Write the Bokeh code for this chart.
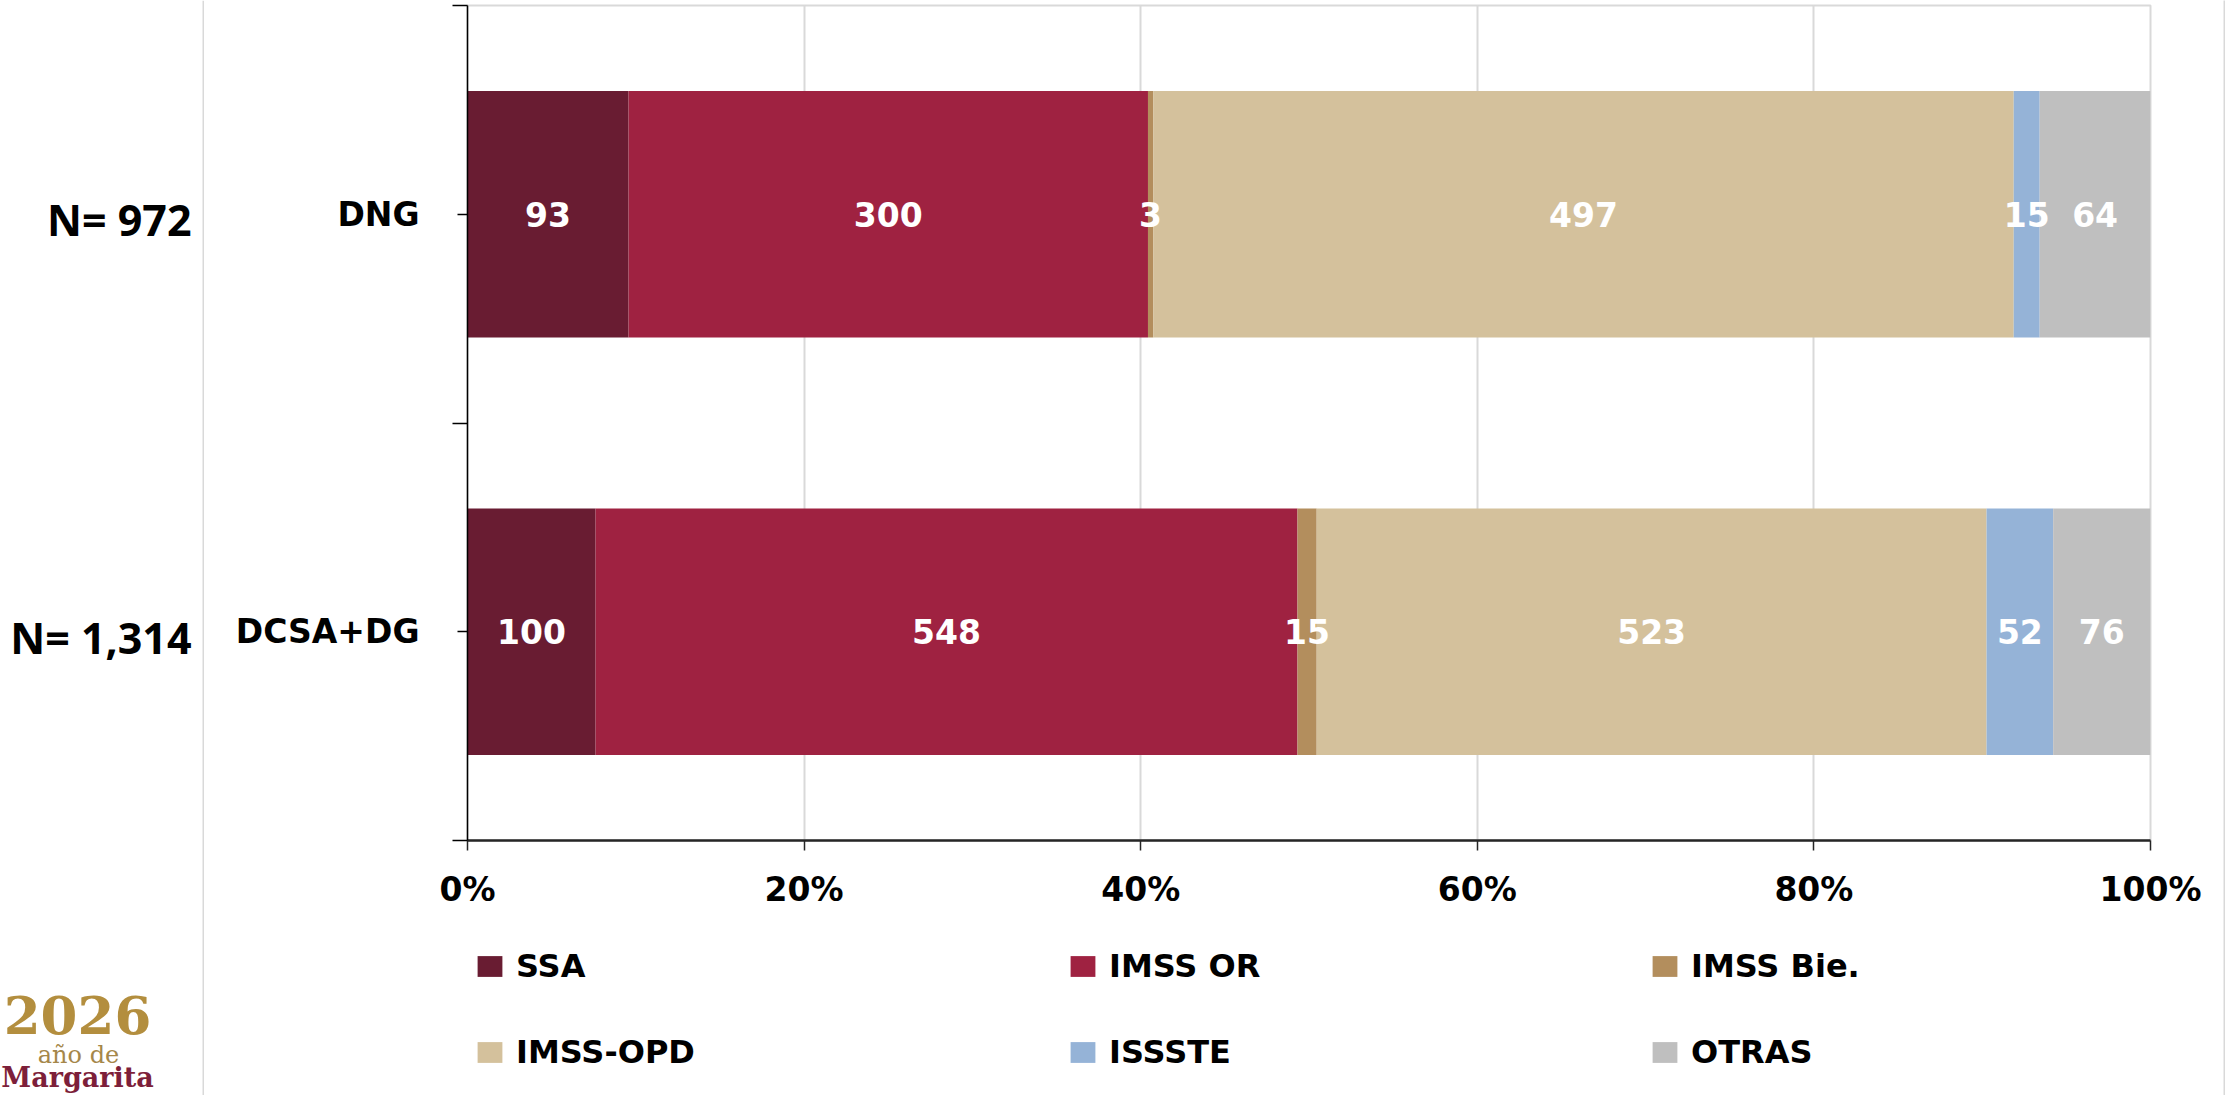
from bokeh.plotting import figure
from bokeh.models import (Range1d, FixedTicker, Legend, LegendItem,
                          ColumnDataSource, Span)
from bokeh.layouts import row, column
from bokeh.core.properties import value
from bokeh.embed import file_html
from bokeh.resources import INLINE

# ---------------- data ----------------
categories = ["DCSA+DG", "DNG"]          # bottom -> top
series = ["SSA", "IMSS OR", "IMSS Bie.", "IMSS-OPD", "ISSSTE", "OTRAS"]
ssa = [100, 93]
imss_or = [548, 300]
imss_bie = [15, 3]
imss_opd = [523, 497]
issste = [52, 15]
otras = [76, 64]
colors = ["#691C32", "#9F2241", "#B38E5D", "#D4C19C", "#95B3D7", "#BFBFBF"]
x_ticks = [0, 20, 40, 60, 80, 100]
x_tick_labels = ["0%", "20%", "40%", "60%", "80%", "100%"]
logo_lines = ["2026", "año de", "Margarita"]

values = [ssa, imss_or, imss_bie, imss_opd, issste, otras]
ncat = len(categories)
totals = [sum(v[i] for v in values) for i in range(ncat)]
ypos = [i + 0.5 for i in range(ncat)]
bounds = [float(i) for i in range(ncat + 1)]
n_labels = [f"N= {t:,}" for t in totals]

FONT = "DejaVu Sans"
H = 1095
LEFT_W = 204
RIGHT_W = 2
MAIN_W = 2225 - LEFT_W - RIGHT_W
TOP = 5
FRAME_H = 836
AXIS_B = 70
MAIN_H = TOP + FRAME_H + AXIS_B
LEG_H = H - MAIN_H
px_per_unit = FRAME_H / ncat

# ---------------- main figure ----------------
p = figure(width=MAIN_W, height=MAIN_H, x_range=Range1d(0, 100),
           y_range=Range1d(0, ncat), output_backend="svg",
           toolbar_location=None, title=None,
           min_border_left=263, min_border_right=73,
           min_border_top=TOP, min_border_bottom=AXIS_B)
p.outline_line_color = "#D9D9D9"
p.outline_line_width = 2

p.xaxis.ticker = FixedTicker(ticks=x_ticks, minor_ticks=[])
p.xaxis.major_label_overrides = {t: l for t, l in zip(x_ticks, x_tick_labels)}
p.xaxis.axis_line_color = "#262626"
p.xaxis.axis_line_width = 2.5
p.xaxis.major_tick_line_color = "#262626"
p.xaxis.major_tick_line_width = 1.5
p.xaxis.major_tick_out = 10
p.xaxis.major_tick_in = 0
p.xaxis.minor_tick_line_color = None
p.xaxis.major_label_standoff = 19
p.xaxis.major_label_text_font = FONT
p.xaxis.major_label_text_font_style = "bold"
p.xaxis.major_label_text_font_size = "33px"
p.xaxis.major_label_text_color = "black"

p.yaxis.ticker = FixedTicker(ticks=ypos, minor_ticks=bounds)
p.yaxis.major_label_overrides = {y: c for y, c in zip(ypos, categories)}
p.yaxis.axis_line_color = "black"
p.yaxis.axis_line_width = 1.5
p.yaxis.major_tick_line_color = "black"
p.yaxis.major_tick_line_width = 1.5
p.yaxis.major_tick_out = 10
p.yaxis.major_tick_in = 0
p.yaxis.minor_tick_line_color = "black"
p.yaxis.minor_tick_line_width = 1.5
p.yaxis.minor_tick_out = 15
p.yaxis.minor_tick_in = 0
p.yaxis.major_label_standoff = 33
p.yaxis.major_label_text_font = FONT
p.yaxis.major_label_text_font_style = "bold"
p.yaxis.major_label_text_font_size = "33px"
p.yaxis.major_label_text_color = "black"

p.ygrid.grid_line_color = None
p.xgrid.ticker = FixedTicker(ticks=x_ticks[1:])
p.xgrid.grid_line_color = "#D9D9D9"
p.xgrid.grid_line_width = 2

cum = [0.0] * ncat
label_srcs = []
for name, vals, col in zip(series, values, colors):
    left = [cum[i] / totals[i] * 100 for i in range(ncat)]
    right = [(cum[i] + vals[i]) / totals[i] * 100 for i in range(ncat)]
    mid = [(a + b) / 2 for a, b in zip(left, right)]
    cum = [cum[i] + vals[i] for i in range(ncat)]
    src = ColumnDataSource(dict(y=ypos, left=left, right=right, mid=mid,
                                txt=[str(v) for v in vals]))
    p.hbar(y="y", left="left", right="right", height=0.59, source=src,
           fill_color=col, line_color=None)
    label_srcs.append(src)

for src in label_srcs:
    p.text(x="mid", y="y", text="txt", source=src, text_color="white",
           text_font=value(FONT), text_font_style="bold", text_font_size="33px",
           text_align="center", text_baseline="middle")

# ---------------- legend strip (3 columns x 2 rows) ----------------
lg = figure(width=MAIN_W, height=LEG_H, x_range=Range1d(0, MAIN_W),
            y_range=Range1d(0, LEG_H), output_backend="svg",
            toolbar_location=None, title=None, x_axis_type=None,
            y_axis_type=None, min_border=0)
lg.outline_line_color = None
lg.grid.visible = False
leg_renderers = []
for col in colors:
    leg_renderers.append(lg.hbar(y=[0], left=[0], right=[0], height=0,
                                 fill_color=col, line_color=None))
col_x = [7, 600, 1182]
row_y = [110, 24]
for k, (s, r) in enumerate(zip(series, leg_renderers)):
    lg.add_layout(Legend(items=[LegendItem(label=s, renderers=[r])],
                         location=(col_x[k % 3], row_y[k // 3]),
                         glyph_width=31, glyph_height=26, label_standoff=11,
                         padding=0, margin=0,
                         border_line_color=None, background_fill_alpha=0,
                         label_text_font=FONT, label_text_font_style="bold",
                         label_text_font_size="32px", label_text_color="black"))

# ---------------- left strip (N labels + logo), same vertical scale ----------------
y_top = ncat + TOP / px_per_unit
y_bottom = y_top - H / px_per_unit
lf = figure(width=LEFT_W, height=H, x_range=Range1d(0, LEFT_W),
            y_range=Range1d(y_bottom, y_top), output_backend="svg",
            toolbar_location=None, title=None, x_axis_type=None,
            y_axis_type=None, min_border=0)
lf.outline_line_color = None
lf.grid.visible = False

nsrc = ColumnDataSource(dict(x=[191] * ncat, y=ypos, t=n_labels))
lf.text(x="x", y="y", text="t", source=nsrc, text_color="black",
        text_font=value("Open Sans"), text_font_style="bold",
        text_font_size="43px", text_align="right", text_baseline="middle",
        y_offset=5)

def px_to_y(px):
    return y_top - px / px_per_unit

logo_src = ColumnDataSource(dict(
    x=[77, 78, 77],
    y=[px_to_y(1014), px_to_y(1054), px_to_y(1077)],
    t=logo_lines,
    size=["53px", "24px", "27px"],
    color=["#B38E3E", "#A5874A", "#7D1F3A"],
    style=["bold", "normal", "bold"]))
lf.text(x="x", y="y", text="t", source=logo_src, text_color="color",
        text_font=value("DejaVu Serif"), text_font_size="size",
        text_font_style="style", text_align="center", text_baseline="middle")
lf.add_layout(Span(location=LEFT_W - 1, dimension="height",
                   line_color="#D9D9D9", line_width=2))

# ---------------- right border strip ----------------
rf = figure(width=RIGHT_W, height=H, output_backend="svg",
            toolbar_location=None, title=None, x_axis_type=None,
            y_axis_type=None, min_border=0)
rf.outline_line_color = None
rf.grid.visible = False
rf.background_fill_color = "#D9D9D9"
rf.border_fill_color = "#D9D9D9"

layout = row(lf, column(p, lg, spacing=0), rf, spacing=0)
open("out.html", "w").write(file_html(layout, INLINE))
